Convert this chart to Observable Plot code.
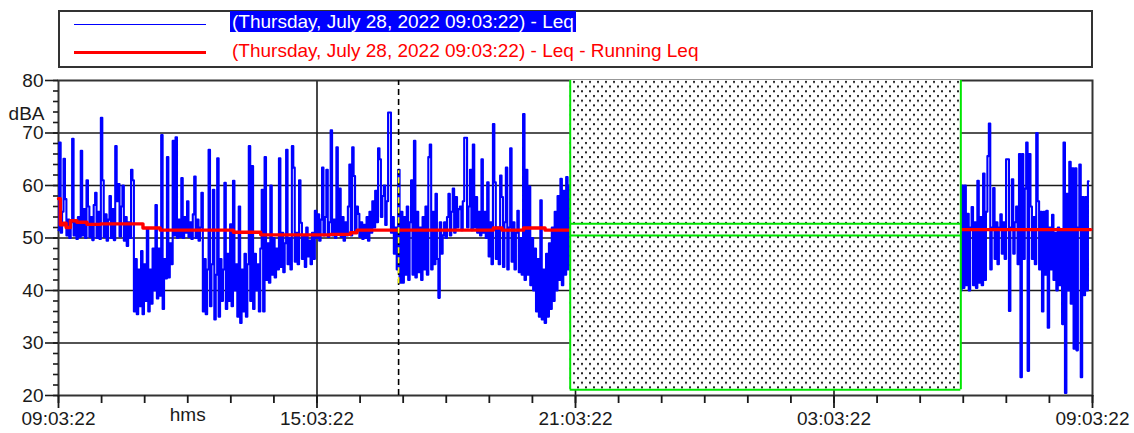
<!DOCTYPE html>
<html>
<head>
<meta charset="utf-8">
<script src="https://cdn.jsdelivr.net/npm/d3@7"></script>
<script src="https://cdn.jsdelivr.net/npm/@observablehq/plot@0.6"></script>
<style>
  html, body { margin: 0; padding: 0; background: #fff; }
  #wrap { position: relative; width: 1134px; height: 433px; font-family: "Liberation Sans", Arial, sans-serif; }
  #legend { position: absolute; left: 58px; top: 10px; width: 1031px; height: 54px; border: 2px solid #333; }
  .key { position: absolute; left: 14px; width: 132px; }
  .lab { position: absolute; left: 170px; font-size: 19px; line-height: 21px; white-space: nowrap; }
  #chart { position: absolute; left: 0; top: 0; }
</style>
</head>
<body>
<div id="wrap">
  <div id="chart"></div>
  <div id="legend"></div>
</div>
<script>
// Measurement session: Thursday, July 28, 2022 09:03:22, one Leq value every 2 minutes
const sessionTitle = "(Thursday, July 28, 2022 09:03:22)";
const seriesNames = ["Leq", "Leq - Running Leq"];
const stepMinutes = 2;

// Leq (dBA) from 09:03:22 until the excluded interval begins
const leqDay = [
  51.5,68.2,51,55,65.1,57.4,50.5,53.5,50,53,
  68.9,50.5,53,49.8,54,50.2,66.6,50.5,55.5,50,
  61,56,50.2,54,49.6,56.3,58.6,50,55,49.8,
  72.9,61,50.2,54.5,49.5,53.5,58,50,55.5,49.6,
  67.5,57,60.3,50.3,56,60,49.5,54,48.5,53,
  50,63,61,
  36,46,35.5,44,37,47.5,35.5,45,38,51.7,
  36,44,37.5,48,40,56.3,38.5,48,39,69.6,
  36.5,46,42.3,65.4,42.5,49,45,
  68.5,50.5,69.2,50,53.5,50.2,61.4,50,54,51,
  57,50.2,53,49.8,54.5,61.7,50,53.5,49.5,52,
  58.6,36,46,35.5,44,66.8,37,45,59.2,34.5,
  43,65.2,35,46,38,44,60.5,36.5,47,38,
  52.6,37,60.9,40,45,35,56,33.8,44,36,
  47,35,45,67.5,38,63.7,36.5,47,40,45,
  36,48,59.2,36,
  65.4,42,49,41.5,60,43,50,42.5,48,44,
  65.2,44.5,51,43.5,49,66.8,45,50,44,67.5,
  63.4,45.5,51,45,61,52.9,46,50.5,44.5,52,
  46.5,49.5,45,51,46,
  55.2,50,54.5,49.5,53.5,63.4,50.5,54,63,50.2,53,70.5,
  50.5,53.5,50,67.3,51,59.4,50.2,54,49.5,53,
  50.5,56,64,50.5,67.3,61.8,51,56,54.6,50.2,
  53,49.8,52.5,50,54,49.5,55,51,57,52,
  59,53,67.1,65,54,58,60,52.5,57,73.9,
  73.9,51,54,47,52,44,63,
  41.5,55,41.5,54,43,56,42,53,61,43,
  68.5,42.5,55,43.5,52,42,54,44,56,43,
  65.4,67.8,44,55,45,58.4,46,38.6,53,47,
  50.5,53,50,54,58.4,50.5,55,59.4,51,57.8,
  52,55.5,56,51.5,57,69.1,69.1,52,56,63,
  51.5,67.8,52,57.8,51,55,50.5,65,51,55,
  50,60.6,
  46.5,53,45,71.7,60.6,46,52,45,61.9,57.8,
  44.5,53,63.4,44,52,67.1,45.5,53,44,51,
  55.2,43.5,50,43,73.6,42,63,43,59.8,41,
  50,40,
  48,36,46,35,57.2,34.5,44,33.8,47,35,
  49,36.5,52,38,55,40,58,42,61.3,41,
  59,43,61.6,44,60
];

// Leq (dBA) from 06:00 on July 29 until the end of the session
const leqMorning = [
  40,60,40.5,60,41,54.6,40,52,55.9,41,
  53,40.5,60.9,41.5,54,41,62.3,42,55,65.6,
  71.8,44,52,59.5,46,53,45,52,54.5,47,
  53,46,65,65,36.1,52,61.2,47,53,56,
  45,66,23.5,66,46,59.4,68.2,24.7,66,56,
  46,54,45,70,57,44,55,36,55,43,
  55.2,32.9,52,44,54.4,42,51,40,52,41,
  51.7,33.6,68.2,20.5,58.4,40,64.5,37.5,63.3,28.9,
  63.3,28.6,52,64,23.5,57.8,39.1,57.8,40,60.8
];

// Running Leq (dBA), held until the next change
const runDayClock = ["09:03:22","09:06","09:10","09:14","09:20","09:29","09:43","10:02","11:01","11:25","13:07","13:45","15:22","15:50","15:59","19:09","19:21","19:51","20:21","20:56"];
const runDayLeq   = [57.5, 52.5, 52.8, 52.0, 53.3, 53.0, 52.6, 52.7, 51.9, 51.5, 51.1, 50.6, 50.7, 51.0, 51.5, 51.9, 51.5, 51.9, 51.5, 51.5];
const runMorningClock = ["06:00","09:01"];
const runMorningLeq   = [51.6, 51.6];

// Excluded interval and its two summary levels
const gapFrom = "20:56", gapTo = "06:00";
const gapLevels = [52.7, 50.5];
const gapFloor = 21.1;

// Cursor position
const cursorClock = "16:57";
const cursorSpan = [41.3, 62.8];

// Axes
const yMajor = [20, 30, 40, 50, 60, 70, 80];
const yGrid = [30, 40, 50, 60, 70];
const yUnit = "dBA";
const xUnit = "hms";

const day1 = [2022, 6, 28], day2 = [2022, 6, 29];
const at = ([y, m, d], clock) => {
  const [hh, mm, ss = 0] = clock.split(":").map(Number);
  return new Date(y, m, d, hh, mm, ss);
};
const start = at(day1, "09:03:22");
const end = at(day2, "09:03:22");
const morningStart = at(day2, "06:00");

const dayRows = leqDay.map((v, i) => ({t: new Date(+start + i * stepMinutes * 60e3), v}));
const morningRows = leqMorning.map((v, i) => ({t: new Date(+morningStart + i * stepMinutes * 60e3), v}));
const runDay = runDayClock.map((c, i) => ({t: at(day1, c), v: runDayLeq[i]}));
const runMorning = runMorningClock.map((c, i) => ({t: at(day2, c), v: runMorningLeq[i]}));
const gap = {t1: at(day1, gapFrom), t2: at(day2, gapTo)};
const cursor = at(day1, cursorClock);

const hourTicks = d3.range(25).map(h => new Date(+start + h * 3600e3));
const majorTicks = hourTicks.filter((_, i) => i % 6 === 0);
const yMinor = d3.range(20, 81, 2);
const fmt = d3.timeFormat("%H:%M:%S");

const blue = "#0000ff", red = "#ff0000", green = "#00e600", ink = "#1a1a1a";

const chart = Plot.plot({
  width: 1134,
  height: 433,
  marginLeft: 58,
  marginRight: 42,
  marginTop: 80,
  marginBottom: 38,
  style: {fontFamily: "'Liberation Sans', Arial, sans-serif", fontSize: "19px", background: "white", color: ink},
  x: {type: "time", domain: [start, end]},
  y: {domain: [20, 80]},
  marks: [
    Plot.ruleY(yGrid, {stroke: ink, strokeWidth: 1.6}),
    Plot.ruleX(majorTicks.slice(1, -1), {y1: 20, y2: 80, stroke: ink, strokeWidth: 1.6}),
    Plot.frame({stroke: "#333", strokeWidth: 2}),
    Plot.axisY({ticks: yMinor, tickSize: 5, tickFormat: () => "", label: null, strokeWidth: 1.6}),
    Plot.axisY({ticks: yMajor, tickSize: 13, tickPadding: 2, label: null, strokeWidth: 1.6, fill: ink}),
    Plot.axisX({ticks: hourTicks, tickSize: 8, tickFormat: () => "", label: null, strokeWidth: 1.8}),
    Plot.axisX({ticks: majorTicks, tickSize: 13, tickPadding: 3, tickFormat: fmt, label: null, strokeWidth: 1.8, fill: ink}),
    Plot.text([yUnit], {frameAnchor: "top-left", dx: -14, dy: 26, textAnchor: "end", fill: ink}),
    Plot.text([xUnit], {x: () => new Date(+start + 3 * 3600e3), frameAnchor: "bottom", dy: 25, fill: ink}),
    // each sample is held for its interval, so level changes are drawn as vertical strokes
    Plot.line(dayRows, {x: "t", y: "v", curve: "step", stroke: blue, strokeWidth: 2.1}),
    Plot.line(morningRows, {x: "t", y: "v", curve: "step", stroke: blue, strokeWidth: 2.1}),
    Plot.line(runDay, {x: "t", y: "v", curve: "step-after", stroke: red, strokeWidth: 3.4}),
    Plot.line(runMorning, {x: "t", y: "v", stroke: red, strokeWidth: 3.4}),
    Plot.ruleX([cursor], {y1: 20, y2: 80, stroke: "black", strokeWidth: 1.6, strokeDasharray: "6,4"}),
    Plot.ruleX([cursor], {y1: cursorSpan[0], y2: cursorSpan[1], stroke: "#ffff00", strokeWidth: 1.6, strokeDasharray: "6,4"}),
    Plot.rect([gap], {x1: "t1", x2: "t2", y1: gapFloor, y2: 80, fill: "url(#dots)"}),
    Plot.ruleX([gap.t1, gap.t2], {y1: gapFloor, y2: 80, stroke: green, strokeWidth: 2}),
    Plot.ruleY([gapFloor, ...gapLevels], {x1: gap.t1, x2: gap.t2, stroke: green, strokeWidth: 2})
  ]
});

// dotted fill for the excluded interval
const defs = document.createElementNS("http://www.w3.org/2000/svg", "defs");
defs.innerHTML = `<pattern id="dots" width="8" height="9.4" patternUnits="userSpaceOnUse">
  <rect width="8" height="9.4" fill="white"/>
  <rect x="1" y="1" width="2" height="2" fill="#222"/>
  <rect x="5" y="5.7" width="2" height="2" fill="#222"/>
</pattern>`;
chart.insertBefore(defs, chart.firstChild);
document.getElementById("chart").appendChild(chart);

// legend
const legend = document.getElementById("legend");
legend.innerHTML = `
  <div class="key" style="top:11.5px;height:1.6px;background:${blue}"></div>
  <div class="key" style="top:38.5px;height:3.6px;background:${red}"></div>
  <div class="lab" style="top:-1px;background:${blue};color:#fff;padding:0 2px">${sessionTitle} - ${seriesNames[0]}</div>
  <div class="lab" style="top:28px;color:${red};padding:0 2px">${sessionTitle} - ${seriesNames[1]}</div>`;
</script>
</body>
</html>
